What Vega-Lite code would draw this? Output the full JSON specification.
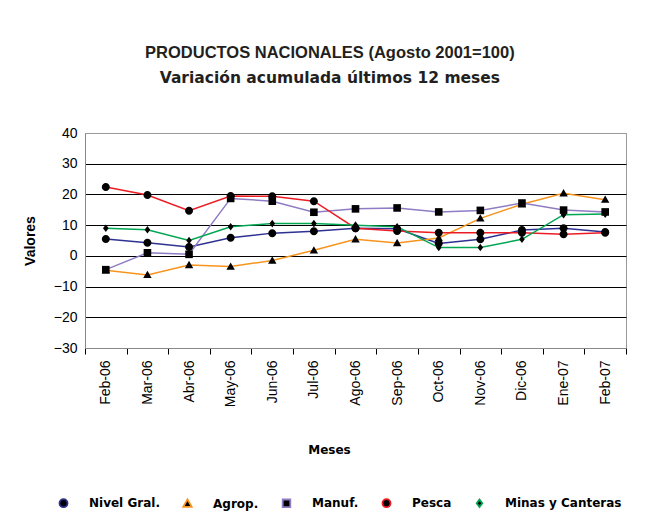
{
  "$schema": "https://vega.github.io/schema/vega-lite/v6.json",
  "width": 541,
  "height": 215,
  "padding": {"left": 23, "top": 45, "right": 19, "bottom": 10},
  "background": "white",
  "config": {
    "font": "Liberation Sans",
    "view": {"stroke": "#999", "strokeWidth": 1}
  },
  "title": {
    "text": "PRODUCTOS NACIONALES (Agosto 2001=100)",
    "subtitle": "Variación acumulada últimos 12 meses",
    "font": "Liberation Sans",
    "fontSize": 16.5,
    "fontWeight": "bold",
    "color": "#231f20",
    "lineHeight": 16,
    "subtitleFont": "DejaVu Sans",
    "subtitleFontSize": 15.5,
    "subtitleFontWeight": "bold",
    "subtitleColor": "#231f20",
    "subtitleLineHeight": 15,
    "subtitlePadding": 9,
    "offset": 40,
    "dx": 5,
    "anchor": "middle",
    "frame": "bounds"
  },
  "data": {
    "values": [
      {"mes": "Feb-06", "serie": "Nivel Gral.", "valor": 5.5},
      {"mes": "Mar-06", "serie": "Nivel Gral.", "valor": 4.3},
      {"mes": "Abr-06", "serie": "Nivel Gral.", "valor": 2.9},
      {"mes": "May-06", "serie": "Nivel Gral.", "valor": 5.9},
      {"mes": "Jun-06", "serie": "Nivel Gral.", "valor": 7.4},
      {"mes": "Jul-06", "serie": "Nivel Gral.", "valor": 8.0},
      {"mes": "Ago-06", "serie": "Nivel Gral.", "valor": 9.0},
      {"mes": "Sep-06", "serie": "Nivel Gral.", "valor": 8.8},
      {"mes": "Oct-06", "serie": "Nivel Gral.", "valor": 4.0},
      {"mes": "Nov-06", "serie": "Nivel Gral.", "valor": 5.4},
      {"mes": "Dic-06", "serie": "Nivel Gral.", "valor": 8.4},
      {"mes": "Ene-07", "serie": "Nivel Gral.", "valor": 9.0},
      {"mes": "Feb-07", "serie": "Nivel Gral.", "valor": 7.8},

      {"mes": "Feb-06", "serie": "Agrop.", "valor": -4.7},
      {"mes": "Mar-06", "serie": "Agrop.", "valor": -6.2},
      {"mes": "Abr-06", "serie": "Agrop.", "valor": -3.0},
      {"mes": "May-06", "serie": "Agrop.", "valor": -3.5},
      {"mes": "Jun-06", "serie": "Agrop.", "valor": -1.5},
      {"mes": "Jul-06", "serie": "Agrop.", "valor": 1.8},
      {"mes": "Ago-06", "serie": "Agrop.", "valor": 5.4},
      {"mes": "Sep-06", "serie": "Agrop.", "valor": 4.2},
      {"mes": "Oct-06", "serie": "Agrop.", "valor": 5.8},
      {"mes": "Nov-06", "serie": "Agrop.", "valor": 12.2},
      {"mes": "Dic-06", "serie": "Agrop.", "valor": 16.8},
      {"mes": "Ene-07", "serie": "Agrop.", "valor": 20.4},
      {"mes": "Feb-07", "serie": "Agrop.", "valor": 18.3},

      {"mes": "Feb-06", "serie": "Manuf.", "valor": -4.5},
      {"mes": "Mar-06", "serie": "Manuf.", "valor": 1.0},
      {"mes": "Abr-06", "serie": "Manuf.", "valor": 0.5},
      {"mes": "May-06", "serie": "Manuf.", "valor": 18.7},
      {"mes": "Jun-06", "serie": "Manuf.", "valor": 17.8},
      {"mes": "Jul-06", "serie": "Manuf.", "valor": 14.2},
      {"mes": "Ago-06", "serie": "Manuf.", "valor": 15.3},
      {"mes": "Sep-06", "serie": "Manuf.", "valor": 15.6},
      {"mes": "Oct-06", "serie": "Manuf.", "valor": 14.3},
      {"mes": "Nov-06", "serie": "Manuf.", "valor": 14.8},
      {"mes": "Dic-06", "serie": "Manuf.", "valor": 17.2},
      {"mes": "Ene-07", "serie": "Manuf.", "valor": 14.9},
      {"mes": "Feb-07", "serie": "Manuf.", "valor": 14.3},

      {"mes": "Feb-06", "serie": "Pesca", "valor": 22.4},
      {"mes": "Mar-06", "serie": "Pesca", "valor": 19.8},
      {"mes": "Abr-06", "serie": "Pesca", "valor": 14.7},
      {"mes": "May-06", "serie": "Pesca", "valor": 19.5},
      {"mes": "Jun-06", "serie": "Pesca", "valor": 19.4},
      {"mes": "Jul-06", "serie": "Pesca", "valor": 17.8},
      {"mes": "Ago-06", "serie": "Pesca", "valor": 9.0},
      {"mes": "Sep-06", "serie": "Pesca", "valor": 8.1},
      {"mes": "Oct-06", "serie": "Pesca", "valor": 7.5},
      {"mes": "Nov-06", "serie": "Pesca", "valor": 7.5},
      {"mes": "Dic-06", "serie": "Pesca", "valor": 7.5},
      {"mes": "Ene-07", "serie": "Pesca", "valor": 7.0},
      {"mes": "Feb-07", "serie": "Pesca", "valor": 7.5},

      {"mes": "Feb-06", "serie": "Minas y Canteras", "valor": 9.0},
      {"mes": "Mar-06", "serie": "Minas y Canteras", "valor": 8.5},
      {"mes": "Abr-06", "serie": "Minas y Canteras", "valor": 5.0},
      {"mes": "May-06", "serie": "Minas y Canteras", "valor": 9.5},
      {"mes": "Jun-06", "serie": "Minas y Canteras", "valor": 10.5},
      {"mes": "Jul-06", "serie": "Minas y Canteras", "valor": 10.5},
      {"mes": "Ago-06", "serie": "Minas y Canteras", "valor": 10.0},
      {"mes": "Sep-06", "serie": "Minas y Canteras", "valor": 9.5},
      {"mes": "Oct-06", "serie": "Minas y Canteras", "valor": 2.7},
      {"mes": "Nov-06", "serie": "Minas y Canteras", "valor": 2.7},
      {"mes": "Dic-06", "serie": "Minas y Canteras", "valor": 5.4},
      {"mes": "Ene-07", "serie": "Minas y Canteras", "valor": 13.4},
      {"mes": "Feb-07", "serie": "Minas y Canteras", "valor": 13.6}
    ]
  },
  "encoding": {
    "x": {
      "field": "mes",
      "type": "ordinal",
      "sort": ["Feb-06", "Mar-06", "Abr-06", "May-06", "Jun-06", "Jul-06", "Ago-06", "Sep-06", "Oct-06", "Nov-06", "Dic-06", "Ene-07", "Feb-07"],
      "scale": {"type": "band", "paddingInner": 0, "paddingOuter": 0},
      "axis": {
        "title": "Meses",
        "labelAngle": -90,
        "tickBand": "extent",
        "grid": false,
        "labelFont": "Liberation Sans",
        "labelFontSize": 14,
        "labelColor": "#000",
        "labelPadding": 6,
        "domainColor": "#888",
        "tickColor": "#000",
        "tickSize": 6,
        "titleFont": "DejaVu Sans",
        "titleFontSize": 12,
        "titleFontWeight": "bold",
        "titleColor": "#000",
        "titlePadding": 38,
        "titleX": 244
      }
    },
    "y": {
      "field": "valor",
      "type": "quantitative",
      "scale": {"domain": [-30, 40]},
      "axis": {
        "title": "Valores",
        "values": [-30, -20, -10, 0, 10, 20, 30, 40],
        "grid": true,
        "gridColor": {"condition": {"test": "datum.value == 40 || datum.value == -30", "value": "#999"}, "value": "#000"},
        "gridOpacity": 1,
        "gridWidth": 1,
        "ticks": false,
        "domainColor": "#888",
        "labelFont": "Liberation Sans",
        "labelFontSize": 14,
        "labelColor": "#000",
        "labelPadding": 8,
        "titleFont": "Liberation Sans",
        "titleFontSize": 14,
        "titleFontWeight": "bold",
        "titleColor": "#000",
        "titlePadding": 16
      }
    }
  },
  "layer": [
    {
      "mark": {"type": "line", "strokeWidth": 1.5},
      "encoding": {
        "color": {
          "field": "serie",
          "type": "nominal",
          "scale": {
            "domain": ["Nivel Gral.", "Agrop.", "Manuf.", "Pesca", "Minas y Canteras"],
            "range": ["#2e3192", "#f7941d", "#8f7cc4", "#ed1c24", "#00a651"]
          },
          "legend": {
            "title": null,
            "orient": "none",
            "legendX": -42,
            "legendY": 364,
            "direction": "horizontal",
            "columns": 5,
            "labelFont": "DejaVu Sans",
            "labelFontSize": 12,
            "labelFontWeight": "bold",
            "labelColor": "#000",
            "symbolSize": 64,
            "symbolStrokeWidth": 1.8,
            "symbolFillColor": "#000",
            "symbolType": "M-1,0A1,1 0 1,1 1,0A1,1 0 1,1 -1,0Z",
            "symbolOffset": 14.5,
            "labelOffset": 19.5,
            "columnPadding": 7,
            "encode": {
              "symbols": {
                "update": {
                  "fill": {"value": "#000"},
                  "shape": {"signal": "datum.value === 'Agrop.' ? 'M0,-1.05L1.05,0.8L-1.05,0.8Z' : datum.value === 'Manuf.' ? 'M-0.95,-0.95L0.95,-0.95L0.95,0.95L-0.95,0.95Z' : datum.value === 'Minas y Canteras' ? 'M0,-0.95L0.7,0L0,0.95L-0.7,0Z' : 'M-1,0A1,1 0 1,1 1,0A1,1 0 1,1 -1,0Z'"}
                }
              }
            }
          }
        }
      }
    },
    {
      "mark": {"type": "point", "filled": true, "fill": "#000", "stroke": null, "size": 64, "opacity": 1},
      "encoding": {
        "shape": {
          "field": "serie",
          "type": "nominal",
          "scale": {
            "domain": ["Nivel Gral.", "Agrop.", "Manuf.", "Pesca", "Minas y Canteras"],
            "range": [
              "M-1,0A1,1 0 1,1 1,0A1,1 0 1,1 -1,0Z",
              "M0,-1.05L1.05,0.8L-1.05,0.8Z",
              "M-0.95,-0.95L0.95,-0.95L0.95,0.95L-0.95,0.95Z",
              "M-1,0A1,1 0 1,1 1,0A1,1 0 1,1 -1,0Z",
              "M0,-0.95L0.7,0L0,0.95L-0.7,0Z"
            ]
          },
          "legend": null
        }
      }
    }
  ]
}
